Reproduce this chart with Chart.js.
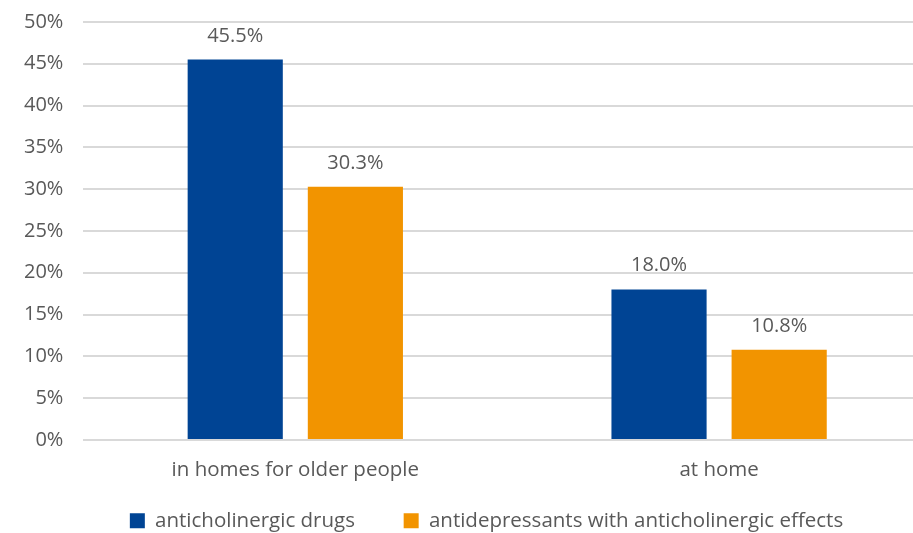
<!DOCTYPE html>
<html lang="en">
<head>
  <meta charset="UTF-8">
  <title>Anticholinergic drugs</title>
  <script src="https://cdn.jsdelivr.net/npm/chart.js"></script>
</head>
<style>
  body {
    margin: 0;
    padding: 0;
    background: #fff;
    overflow: hidden;
  }

  /* canvas is a bit bigger than the window, the original picture is cropped */
  .chart-box {
    width: 931px;
    height: 551px;
    margin-top: -10px;
  }
</style>
<body>
<div class="chart-box">
  <canvas id="drugChart"></canvas>
</div>

<script>
  const categories = ['in homes for older people', 'at home'];
  const anticholinergic = [45.5, 18.0];
  const antidepressants = [30.3, 10.8];
  const seriesNames = ['anticholinergic drugs', 'antidepressants with anticholinergic effects'];

  const textColor = '#595959';
  const fontFamily = '"Open Sans", "Noto Sans", sans-serif';

  // labels above each bar
  const barLabels = {
    id: 'barLabels',
    afterDatasetsDraw(chart) {
      const ctx = chart.ctx;
      ctx.save();
      ctx.font = '20px ' + fontFamily;
      ctx.fillStyle = textColor;
      ctx.textAlign = 'center';
      ctx.textBaseline = 'alphabetic';
      chart.data.datasets.forEach((ds, i) => {
        chart.getDatasetMeta(i).data.forEach((bar, j) => {
          ctx.fillText(ds.data[j].toFixed(1) + '%', bar.x, bar.y - 18);
        });
      });
      ctx.restore();
    }
  };

  // original legend sits a little right of the centre
  const legendShift = {
    id: 'legendShift',
    afterLayout(chart) {
      chart.legend.left += 38;
    }
  };

  const ctx = document.getElementById('drugChart').getContext('2d');
  const drugChart = new Chart(ctx, {
    type: 'bar',
    data: {
      labels: categories,
      datasets: [{
        label: seriesNames[0],
        data: anticholinergic,
        backgroundColor: '#004494',
        categoryPercentage: 0.567,
        barPercentage: 0.792
      }, {
        label: seriesNames[1],
        data: antidepressants,
        backgroundColor: '#f29400',
        categoryPercentage: 0.567,
        barPercentage: 0.792
      }]
    },
    options: {
      responsive: true,
      maintainAspectRatio: false,
      animation: false,
      layout: {
        padding: { top: 0, right: 0, left: 4, bottom: 0 }
      },
      scales: {
        y: {
          min: 0,
          max: 50,
          ticks: {
            stepSize: 5,
            color: textColor,
            padding: 20,
            font: { size: 20, family: fontFamily },
            callback: v => v + '%'
          },
          grid: { color: '#d9d9d9', lineWidth: 2, drawTicks: false },
          border: { display: false }
        },
        x: {
          ticks: {
            color: textColor,
            padding: 10,
            font: { size: 20.5, family: fontFamily }
          },
          grid: { display: false },
          border: { display: false }
        }
      },
      plugins: {
        legend: {
          position: 'bottom',
          labels: {
            color: textColor,
            boxWidth: 15,
            boxHeight: 15,
            padding: 18,
            font: { size: 20.5, family: fontFamily },
            generateLabels(chart) {
              const items = Chart.defaults.plugins.legend.labels.generateLabels(chart);
              // wider gap after the first item, like the original
              items[0].text += '\u2003\u2002';
              return items;
            }
          }
        },
        tooltip: { enabled: false }
      }
    },
    plugins: [barLabels, legendShift]
  });
</script>
</body>
</html>
